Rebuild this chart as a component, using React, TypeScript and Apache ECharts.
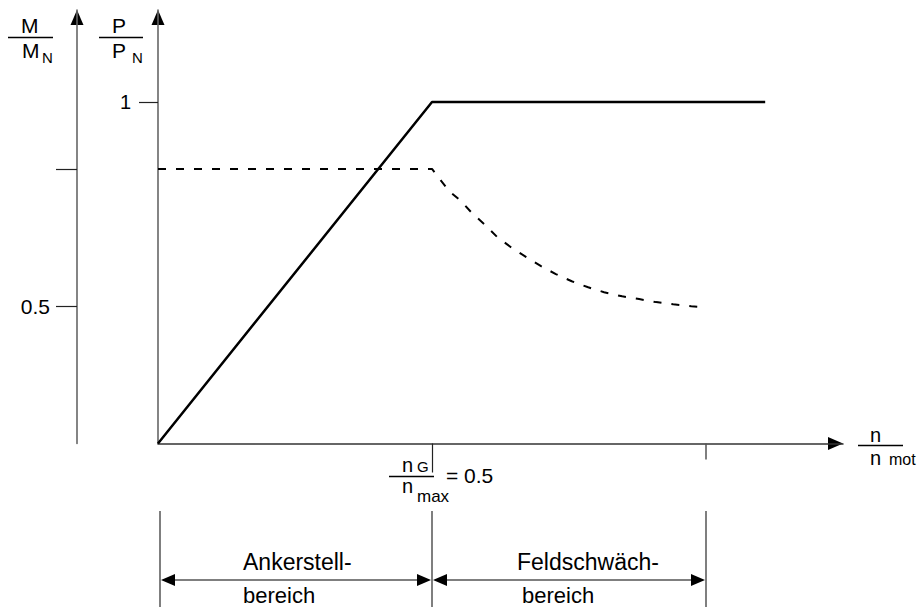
import React, { useEffect, useRef } from 'react';
import * as echarts from 'echarts';

// ---- data ----
// P/PN over n/nmot (solid)
const powerCurve: [number, number][] = [
  [0, 0],
  [0.5, 1],
  [1.108, 1],
];
// M/MN over n/nmot (dashed)
const torqueCurve: [number, number][] = [
  [0, 1],
  [0.5, 1],
  [0.531, 0.92],
  [0.553, 0.883],
  [0.573, 0.839],
  [0.597, 0.796],
  [0.619, 0.752],
  [0.644, 0.715],
  [0.672, 0.679],
  [0.699, 0.646],
  [0.726, 0.617],
  [0.755, 0.591],
  [0.785, 0.569],
  [0.814, 0.551],
  [0.847, 0.536],
  [0.878, 0.526],
  [0.909, 0.515],
  [0.94, 0.507],
  [0.973, 0.5],
  [1.0, 0.496],
];
const powerTicks = [1];
const torqueTicks = [0.5, 1];
const torqueLabelTicks = [0.5];
const speedTicksShort = [1];
const speedTicksLong = [0.5];
const xMax = 1.25;
const powerMax = 1.2694;
const torqueMax = 1.579;
const regionBounds = [0, 0.5, 1];
const regionLabels: [string, string][] = [
  ['Ankerstell-', 'bereich'],
  ['Feldschwäch-', 'bereich'],
];
const regionLabelOffsets: [number, number][] = [
  [85, 85],
  [85, 90],
];

const FONT = '"Liberation Sans", Arial, Helvetica, sans-serif';

function txt(text: string, x: number, y: number, size: number) {
  return {
    type: 'text',
    x,
    y,
    silent: true,
    style: {
      text,
      fill: '#000',
      fontSize: size,
      fontFamily: FONT,
      align: 'left',
      verticalAlign: 'middle',
    },
  };
}
function seg(x1: number, y1: number, x2: number, y2: number, color = '#000', w = 1.5) {
  return {
    type: 'line',
    silent: true,
    shape: { x1, y1, x2, y2 },
    style: { stroke: color, lineWidth: w },
  };
}
// horizontal arrow head, dir = 1 points right, -1 points left
function headH(tipX: number, y: number, dir: number, len = 14, half = 6) {
  return {
    type: 'polygon',
    silent: true,
    shape: {
      points: [
        [tipX, y],
        [tipX - dir * len, y - half],
        [tipX - dir * len, y + half],
      ],
    },
    style: { fill: '#000' },
  };
}
// upward arrow head
function headUp(x: number, tipY: number, len = 15, half = 6.5) {
  return {
    type: 'polygon',
    silent: true,
    shape: {
      points: [
        [x, tipY],
        [x - half, tipY + len],
        [x + half, tipY + len],
      ],
    },
    style: { fill: '#000' },
  };
}

export default function App() {
  const ref = useRef<HTMLDivElement>(null);
  useEffect(() => {
    if (!ref.current) return;
    const chart = echarts.init(ref.current, undefined, { renderer: 'svg' });
    const axisCommon = {
      type: 'value',
      splitLine: { show: false },
    };
    const option: any = {
      animation: false,
      backgroundColor: '#fff',
      grid: {
        left: 158,
        top: 10,
        width: 685,
        height: 433.5,
        containLabel: false,
        outerBoundsMode: 'none',
      },
      xAxis: [
        {
          ...axisCommon,
          min: 0,
          max: xMax,
          position: 'bottom',
          axisLine: {
            show: true,
            onZero: false,
            lineStyle: { color: '#333', width: 1.5 },
          },
          axisTick: {
            show: true,
            customValues: speedTicksShort,
            length: 16,
            lineStyle: { color: '#555', width: 1.5 },
          },
          axisLabel: { show: false },
        },
        {
          ...axisCommon,
          min: 0,
          max: xMax,
          position: 'bottom',
          axisLine: { show: false, onZero: false },
          axisTick: {
            show: true,
            customValues: speedTicksLong,
            length: 29,
            lineStyle: { color: '#222', width: 1.2 },
          },
          axisLabel: { show: false },
        },
      ],
      yAxis: [
        {
          ...axisCommon,
          min: 0,
          max: powerMax,
          position: 'left',
          axisLine: {
            show: true,
            onZero: false,
            lineStyle: { color: '#666', width: 1.6 },
          },
          axisTick: {
            show: true,
            customValues: powerTicks,
            length: 19,
            lineStyle: { color: '#222', width: 1.2 },
          },
          axisLabel: {
            show: true,
            customValues: powerTicks,
            margin: 27,
            color: '#000',
            fontSize: 20,
            fontFamily: FONT,
          },
        },
        {
          ...axisCommon,
          min: 0,
          max: torqueMax,
          position: 'left',
          offset: 81,
          axisLine: {
            show: true,
            onZero: false,
            lineStyle: { color: '#666', width: 1.6 },
          },
          axisTick: {
            show: true,
            customValues: torqueTicks,
            length: 21,
            lineStyle: { color: '#222', width: 1.2 },
          },
          axisLabel: {
            show: true,
            customValues: torqueLabelTicks,
            margin: 27,
            color: '#000',
            fontSize: 21,
            fontFamily: FONT,
          },
        },
      ],
      series: [
        {
          type: 'line',
          name: 'P/PN',
          xAxisIndex: 0,
          yAxisIndex: 0,
          data: powerCurve,
          symbol: 'none',
          lineStyle: { color: '#000', width: 2.5 },
          silent: true,
        },
        {
          type: 'line',
          name: 'M/MN',
          xAxisIndex: 0,
          yAxisIndex: 1,
          data: torqueCurve,
          symbol: 'none',
          lineStyle: { color: '#000', width: 2, type: [8, 10] },
          silent: true,
        },
      ],
    };
    chart.setOption(option);

    const px = regionBounds.map((v) => chart.convertToPixel({ xAxisIndex: 0 }, v) as number);
    const x0 = chart.convertToPixel({ xAxisIndex: 0 }, 0) as number;
    const xEnd = chart.convertToPixel({ xAxisIndex: 0 }, xMax) as number;
    const y0 = chart.convertToPixel({ yAxisIndex: 0 }, 0) as number;
    const yTop = chart.convertToPixel({ yAxisIndex: 0 }, powerMax) as number;
    const mAxisX = x0 - 81;

    const graphic: any[] = [
      // axis arrow heads
      headUp(x0, yTop),
      headUp(mAxisX, yTop, 15, 6.5),
      headH(xEnd, y0, 1, 15, 6.5),
      // M / MN
      txt('M', 21, 25.6, 21),
      seg(8, 37.5, 53, 37.5, '#000', 1.4),
      txt('M', 22, 50.6, 21),
      txt('N', 42, 57.8, 15),
      // P / PN
      txt('P', 112, 25.6, 21),
      seg(99, 37.5, 143, 37.5, '#000', 1.4),
      txt('P', 112, 50.6, 21),
      txt('N', 132, 57.8, 15),
      // nG / nmax = 0.5
      txt('n', 402, 465, 20),
      txt('G', 417, 466.8, 15),
      seg(389, 476.5, 434, 476.5, '#000', 1.4),
      txt('n', 402, 486, 20),
      txt('max', 417, 496, 17),
      txt('= 0.5', 446, 475.6, 21),
      // n / nmot
      txt('n', 870, 435, 20),
      seg(858, 445.5, 903, 445.5, '#000', 1.4),
      txt('n', 870, 458, 20),
      txt('mot', 889, 459.5, 16),
    ];
    px.forEach((x, i) => {
      const xx = i === 0 ? x + 2 : x;
      graphic.push(seg(xx, 511, xx, 607, '#555', 1.5));
    });
    for (let i = 0; i < regionLabels.length; i++) {
      const a = (i === 0 ? px[i] + 2 : px[i]) + 1;
      const b = px[i + 1] - 1;
      graphic.push(seg(a + 4, 580, b - 4, 580, '#555', 1.5));
      graphic.push(headH(a, 580, -1));
      graphic.push(headH(b, 580, 1));
      graphic.push(txt(regionLabels[i][0], px[i] + regionLabelOffsets[i][0], 562, 23));
      graphic.push(txt(regionLabels[i][1], px[i] + regionLabelOffsets[i][1], 595, 22));
    }
    chart.setOption({ graphic });

    return () => chart.dispose();
  }, []);
  return (
    <div
      ref={ref}
      style={{ position: 'fixed', left: 0, top: 0, width: 920, height: 607, background: '#fff' }}
    />
  );
}
